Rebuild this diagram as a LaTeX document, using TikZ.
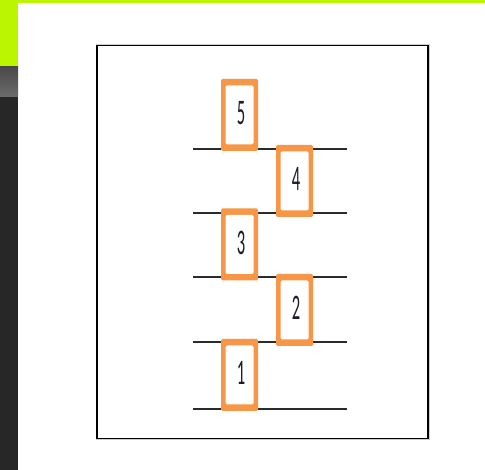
\documentclass[tikz,border=0pt]{standalone}
\usepackage{fontspec}
\usepackage{graphicx}
\usetikzlibrary{calc}
\newfontfamily\numfont{Carlito}
\definecolor{Lime}{HTML}{BCF500}
\definecolor{Strip}{HTML}{272727}
\definecolor{StripTop}{HTML}{484848}
\definecolor{StripLow}{HTML}{6C6C6C}
\definecolor{Rule}{HTML}{2B2B2B}
\definecolor{Accent}{HTML}{F79646}
\definecolor{Ink}{HTML}{1C1C2C}
\newcommand{\slotnum}[1]{\hbox{\kern3pt\scalebox{0.46}[1]{\fontsize{36}{36}\selectfont\numfont #1}}}

\begin{document}
\begin{tikzpicture}[x=1pt,y=-1pt,
      rule/.style={Rule,line width=1.6pt},
      slot/.style={fill=Accent,rounded corners=1.5pt,inner sep=0pt,
                   minimum width=37pt,minimum height=72pt,text=Ink,text depth=4pt,
                   path picture={\fill[white]
                     ($(path picture bounding box.south west)+(4.5pt,6.5pt)$) rectangle
                     ($(path picture bounding box.north east)+(-4.5pt,-6.5pt)$);}}]
    \useasboundingbox (0,0) rectangle (485,470);
    % page background
    \fill[white] (0,0) rectangle (485,470);
    \fill[Strip] (0,97) rectangle (18,470);
    \shade[top color=StripTop,bottom color=StripLow] (0,66) rectangle (18,97);
    \fill[Lime] (0,0) rectangle (18,66);
    \fill[Lime] (0,0) rectangle (485,3.5);
    % frame
    \draw[gray!40,line width=0.8pt] (96.5,44.2) rectangle (429,439.6);
    \draw[black,line width=1.3pt] (97,45.5) rectangle (428,438.5);
    % levels
    \draw[rule] (193,149) -- (347,149);
    \draw[rule] (193,213) -- (347,213);
    \draw[rule] (193,277) -- (347,277);
    \draw[rule] (193,342) -- (347,342);
    \draw[rule] (193,409) -- (347,409);
    % blocks
    \node[slot] (n5) at (239.5,115) {\slotnum{5}};
    \node[slot] (n4) at (294.5,181) {\slotnum{4}};
    \node[slot] (n3) at (239.5,244.5) {\slotnum{3}};
    \node[slot] (n2) at (294.5,310) {\slotnum{2}};
    \node[slot] (n1) at (239.5,375) {\slotnum{1}};
\end{tikzpicture}
\end{document}
